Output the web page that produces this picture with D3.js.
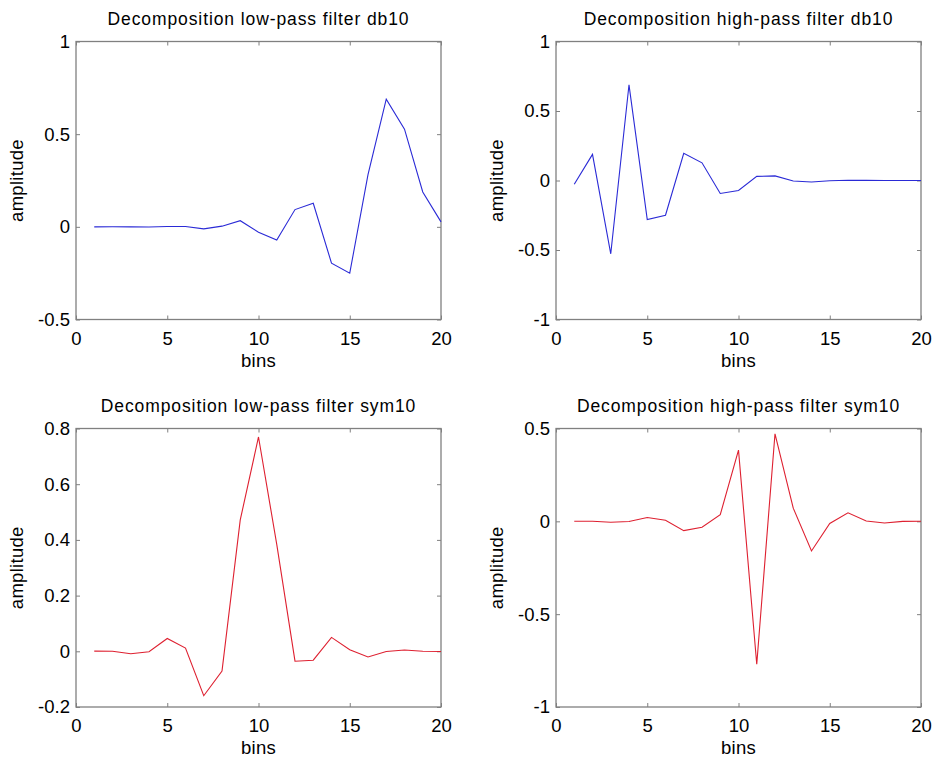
<!DOCTYPE html>
<html>
<head>
<meta charset="utf-8">
<script src="https://cdn.jsdelivr.net/npm/d3@7"></script>
<style>
  html, body { margin: 0; padding: 0; background: #fff; }
  svg { display: block; }
  text { font-family: "Liberation Sans", Arial, Helvetica, sans-serif; fill: #000; }
</style>
</head>
<body>
<svg id="chart" width="933" height="762"></svg>
<script>
// Filter taps, indexed by bin 1..20
const bins = d3.range(1, 21);

const db10Low = [-0.0000133, 0.0000936, -0.0001165, -0.000686, 0.00199, 0.001395,
  -0.01073, 0.003607, 0.03321, -0.02946, -0.07149, 0.09306, 0.12737, -0.19595,
  -0.24985, 0.28117, 0.68846, 0.52720, 0.18818, 0.02667];

const db10High = [-0.02667, 0.18818, -0.52720, 0.68846, -0.28117, -0.24985,
  0.19595, 0.12737, -0.09306, -0.07149, 0.02946, 0.03321, -0.003607, -0.01073,
  -0.001395, 0.00199, 0.000686, -0.0001165, -0.0000936, -0.0000133];

const sym10Low = [0.00077, 0.0000956, -0.00864, -0.001465, 0.04593, 0.01161,
  -0.15949, -0.07088, 0.47169, 0.76951, 0.38383, -0.03554, -0.03199, 0.04999,
  0.005765, -0.02035, -0.000804, 0.004593, 0.000057, -0.000459];

const sym10High = [0.000459, 0.000057, -0.004593, -0.000804, 0.02035, 0.005765,
  -0.04999, -0.03199, 0.03554, 0.38383, -0.76951, 0.47169, 0.07088, -0.15949,
  -0.01161, 0.04593, 0.001465, -0.00864, -0.0000956, 0.00077];

const xTicks = [0, 5, 10, 15, 20];
const yTicksA = [-0.5, 0, 0.5, 1];
const yTicksB = [-1, -0.5, 0, 0.5, 1];
const yTicksC = [-0.2, 0, 0.2, 0.4, 0.6, 0.8];
const yTicksD = [-1, -0.5, 0, 0.5];

const titles = [
  "Decomposition low-pass filter db10",
  "Decomposition high-pass filter db10",
  "Decomposition low-pass filter sym10",
  "Decomposition high-pass filter sym10"
];

const panels = [
  { title: titles[0], values: db10Low,  yDomain: [-0.5, 1],  yTicks: yTicksA, color: "#2a2ad6", box: [76, 41.5, 441, 319.5] },
  { title: titles[1], values: db10High, yDomain: [-1, 1],    yTicks: yTicksB, color: "#2a2ad6", box: [556, 41.5, 921, 319.5] },
  { title: titles[2], values: sym10Low, yDomain: [-0.2, 0.8], yTicks: yTicksC, color: "#de2030", box: [76, 428.5, 441, 707] },
  { title: titles[3], values: sym10High, yDomain: [-1, 0.5], yTicks: yTicksD, color: "#de2030", box: [556, 428.5, 921, 707] }
];

const svg = d3.select("#chart");
// plain hyphen for negatives, no trailing zeros
const fmt = d => String(+d.toFixed(1));
const axisColor = "#808080";
const tickLen = 4;

panels.forEach(p => {
  const [x0, y0, x1, y1] = p.box;
  const x = d3.scaleLinear().domain([0, 20]).range([x0, x1]);
  const y = d3.scaleLinear().domain(p.yDomain).range([y1, y0]);
  const g = svg.append("g");

  // Inward ticks on all four sides
  const styleAxis = sel => {
    sel.select(".domain").remove();
    sel.selectAll(".tick line").attr("stroke", axisColor).attr("stroke-width", 1);
    sel.selectAll(".tick text").attr("font-size", 18.5).attr("fill", "#000");
  };

  g.append("g").attr("transform", `translate(0,${y1})`)
    .call(d3.axisBottom(x).tickValues(xTicks).tickSizeInner(-tickLen).tickSizeOuter(0).tickPadding(12).tickFormat(fmt))
    .call(styleAxis);
  g.append("g").attr("transform", `translate(0,${y0})`)
    .call(d3.axisTop(x).tickValues(xTicks).tickSizeInner(-tickLen).tickSizeOuter(0).tickFormat(""))
    .call(styleAxis);
  g.append("g").attr("transform", `translate(${x0},0)`)
    .call(d3.axisLeft(y).tickValues(p.yTicks).tickSizeInner(-tickLen).tickSizeOuter(0).tickPadding(6).tickFormat(fmt))
    .call(styleAxis);
  g.append("g").attr("transform", `translate(${x1},0)`)
    .call(d3.axisRight(y).tickValues(p.yTicks).tickSizeInner(-tickLen).tickSizeOuter(0).tickFormat(""))
    .call(styleAxis);

  // Plot frame
  g.append("rect")
    .attr("x", x0).attr("y", y0)
    .attr("width", x1 - x0).attr("height", y1 - y0)
    .attr("fill", "none").attr("stroke", axisColor).attr("stroke-width", 1.3);

  // Filter coefficients
  g.append("path")
    .datum(p.values.map((v, i) => [bins[i], v]))
    .attr("fill", "none")
    .attr("stroke", p.color)
    .attr("stroke-width", 1.1)
    .attr("d", d3.line().x(d => x(d[0])).y(d => y(d[1])));

  const cx = (x0 + x1) / 2;
  g.append("text")
    .attr("x", cx).attr("y", y0 - 17)
    .attr("text-anchor", "middle").attr("font-size", 17.5)
    .attr("letter-spacing", 0.9)
    .text(p.title);
  g.append("text")
    .attr("x", cx).attr("y", y1 + 47)
    .attr("text-anchor", "middle").attr("font-size", 18.5)
    .attr("letter-spacing", 0.3)
    .text("bins");
  g.append("text")
    .attr("transform", `translate(${x0 - 53},${(y0 + y1) / 2}) rotate(-90)`)
    .attr("text-anchor", "middle").attr("font-size", 18.5)
    .attr("letter-spacing", 0.3)
    .text("amplitude");
});
</script>
</body>
</html>
